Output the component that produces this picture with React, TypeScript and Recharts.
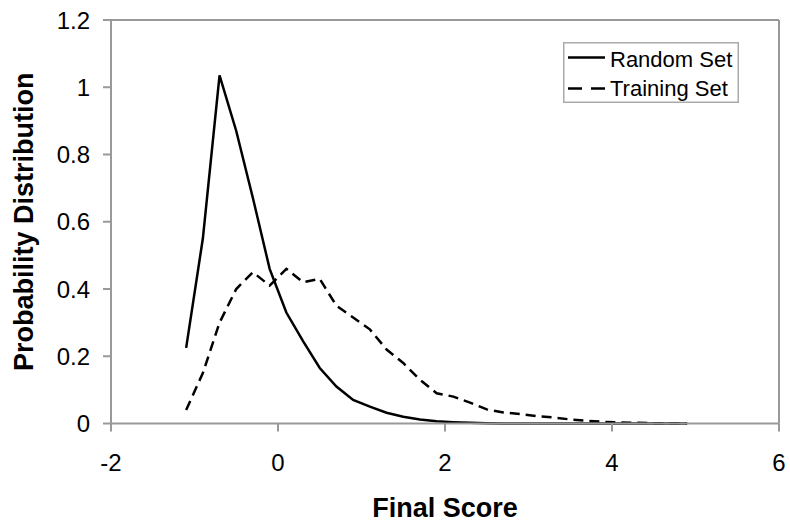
import { LineChart, Line, XAxis, YAxis, ReferenceLine } from "recharts"

const scores = [
  -1.1, -0.9, -0.7, -0.5, -0.3, -0.1, 0.1, 0.3, 0.5, 0.7, 0.9, 1.1, 1.3, 1.5, 1.7, 1.9,
  2.1, 2.3, 2.5, 2.7, 2.9, 3.1, 3.3, 3.5, 3.7, 3.9, 4.1, 4.3, 4.5, 4.7, 4.9,
]
const randomSet = [
  0.225, 0.55, 1.035, 0.87, 0.67, 0.46, 0.33, 0.245, 0.165, 0.11, 0.07, 0.05, 0.032, 0.02,
  0.012, 0.007, 0.004, 0.002, 0.001, 0, 0, 0, 0, 0, 0, 0, 0, 0, 0, 0, 0,
]
const trainingSet = [
  0.04, 0.15, 0.3, 0.4, 0.45, 0.41, 0.46, 0.42, 0.43, 0.35, 0.315, 0.28, 0.22, 0.18, 0.13,
  0.09, 0.08, 0.062, 0.042, 0.033, 0.028, 0.022, 0.018, 0.012, 0.008, 0.005, 0.003, 0.002,
  0.001, 0.001, 0,
]
const xTicks = [-2, 0, 2, 4, 6]
const yTicks = [0, 0.2, 0.4, 0.6, 0.8, 1, 1.2]

const data = scores.map((s, i) => ({ score: s, random: randomSet[i], training: trainingSet[i] }))

const font = "'Liberation Sans', Arial, sans-serif"
const axisGray = "#999"

function LegendBox() {
  return (
    <svg width={176} height={61} style={{ display: "block" }}>
      <rect x={0.75} y={0.75} width={174.5} height={59.5} fill="#fff" stroke="#aaa" strokeWidth={1.5} />
      <line x1={5} x2={42} y1={15.5} y2={15.5} stroke="#000" strokeWidth={2.5} />
      <text x={47} y={24.5} fontSize={22} fontFamily={font} fill="#000">Random Set</text>
      <line x1={5} x2={42} y1={46.5} y2={46.5} stroke="#000" strokeWidth={2.5} strokeDasharray="14 9" />
      <text x={47} y={54} fontSize={22} fontFamily={font} fill="#000">Training Set</text>
    </svg>
  )
}

export default function App() {
  return (
    <div style={{ position: "absolute", left: 0, top: 0, width: 790, height: 527, background: "#fff" }}>
      <LineChart width={790} height={527} data={data} margin={{ top: 20, right: 11, left: 0, bottom: 0 }}>
        <XAxis
          type="number"
          dataKey="score"
          domain={[-2, 6]}
          ticks={xTicks}
          height={103.5}
          stroke={axisGray}
          strokeWidth={2}
          tickSize={8}
          tickMargin={22}
          tick={{ fill: "#000", fontSize: 24, fontFamily: font }}
          label={{
            value: "Final Score",
            position: "insideBottom",
            offset: 10,
            style: { fill: "#000", fontSize: 27, fontWeight: "bold", fontFamily: font },
          }}
        />
        <YAxis
          type="number"
          domain={[0, 1.2]}
          ticks={yTicks}
          width={111}
          stroke={axisGray}
          strokeWidth={2}
          tickSize={8}
          tickMargin={13}
          tick={{ fill: "#000", fontSize: 24, fontFamily: font }}
          label={{
            value: "Probability Distribution",
            angle: -90,
            position: "insideLeft",
            offset: 23,
            style: { textAnchor: "middle", fill: "#000", fontSize: 27, fontWeight: "bold", fontFamily: font },
          }}
        />
        <ReferenceLine y={1.2} stroke={axisGray} strokeWidth={2} />
        <ReferenceLine x={6} stroke={axisGray} strokeWidth={2} />
        <Line
          type="linear"
          dataKey="random"
          name="Random Set"
          stroke="#000"
          strokeWidth={2.5}
          dot={false}
          isAnimationActive={false}
        />
        <Line
          type="linear"
          dataKey="training"
          name="Training Set"
          stroke="#000"
          strokeWidth={2.5}
          strokeDasharray="10 6"
          dot={false}
          isAnimationActive={false}
        />
      </LineChart>
      <div style={{ position: "absolute", left: 563, top: 42 }}>
        <LegendBox />
      </div>
    </div>
  )
}
